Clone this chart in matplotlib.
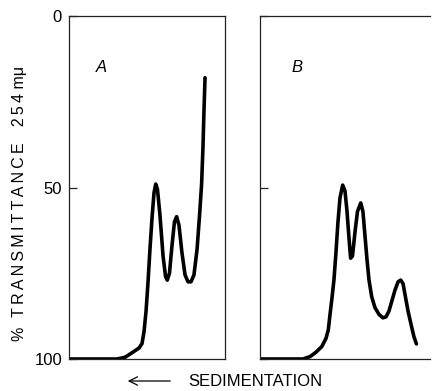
import matplotlib
matplotlib.use("Agg")
from matplotlib import pyplot as plt

plt.rcParams['font.family'] = ['Liberation Sans', 'DejaVu Sans']

# distance along the gradient (arbitrary units) and % transmittance at 254 mu
dist_a = [0, 30.8, 35.9, 41.0, 44.9, 46.8, 48.1, 49.4, 50.6, 51.9, 53.2, 54.5,
          55.6, 56.7, 58.3, 60.3, 61.9, 63.0, 64.4, 66.0, 67.6, 69.0, 70.5,
          72.4, 74.4, 76.3, 78.2, 80.1, 82.1, 83.7, 85.0, 85.9, 86.5, 87.2]
trans_a = [100, 100, 99.5, 98, 96.8, 95.5, 92, 86, 78, 68, 59, 51.5,
           49, 50.5, 58, 70, 76, 77, 75, 67, 60, 58.5, 61,
           69, 75.5, 77.5, 77.5, 75.5, 68, 58, 49, 38, 28, 18]

dist_b = [0, 27.6, 32.1, 35.9, 39.6, 42.3, 43.8, 44.9, 46.2, 47.4, 48.7, 50.0,
          51.3, 53.0, 54.5, 55.8, 57.1, 58.1, 59.3, 60.9, 62.5, 64.6, 66.0,
          67.3, 68.6, 69.9, 71.6, 73.7, 76.3, 78.8, 80.8, 82.7, 84.6, 86.5,
          88.5, 90.2, 91.7, 92.9, 94.9, 97.2, 98.7, 100.3]
trans_b = [100, 100, 99.3, 98, 96.4, 94, 91.5, 87, 82, 77, 69, 60,
           53, 49.3, 51, 57, 65, 70.6, 70, 63, 57, 54.5, 57,
           64, 71, 77, 81.8, 85, 87, 88, 87.7, 86, 83, 80,
           77.5, 77, 78, 81, 86, 90.6, 93.5, 95.6]

yticks = [0, 50, 100]
ytick_labels = ['0', '50', '100']

fig = plt.figure(figsize=(4.32, 3.91), dpi=100)
ax_a = fig.add_axes([69/432, 32/391, 156/432, 343/391])
ax_b = fig.add_axes([260/432, 32/391, 170/432, 343/391])

for ax, x, y, xmax, tag, tag_x in [(ax_a, dist_a, trans_a, 100, 'A', 21),
                                   (ax_b, dist_b, trans_b, 109, 'B', 24)]:
    ax.plot(x, y, color='black', lw=2.6, solid_joinstyle='round',
            solid_capstyle='round')
    ax.set_xlim(0, xmax)
    ax.set_ylim(100, 0)
    ax.set_xticks([])
    ax.set_yticks(yticks)
    ax.tick_params(axis='y', direction='in', length=6, width=0.9,
                   color='#222222', pad=5, labelsize=12)
    for s in ax.spines.values():
        s.set_linewidth(0.9)
        s.set_color('#222222')
    ax.text(tag_x, 15, tag, fontsize=12, style='italic', ha='center',
            va='center')

ax_a.set_yticklabels(ytick_labels)
ax_b.set_yticklabels([])
ax_b.spines['right'].set_visible(False)

# spaced-out lettering for the vertical axis title
thin = '\u2009'
ylab = ('%' + thin * 3 + thin.join('TRANSMITTANCE') + thin * 5
        + thin.join('254') + ' m\u03bc')
fig.text(20/432, 188/391, ylab, rotation=90, fontsize=11.5,
         ha='center', va='center')

fig.text(188/432, 10/391, 'SEDIMENTATION', fontsize=12,
         ha='left', va='center')
fig.add_artist(matplotlib.patches.FancyArrowPatch(
    (173/432, 10/391), (125/432, 10/391), transform=fig.transFigure,
    arrowstyle='->,head_length=6,head_width=3', lw=0.9, color='black'))

fig.savefig('out.png', dpi=100)
